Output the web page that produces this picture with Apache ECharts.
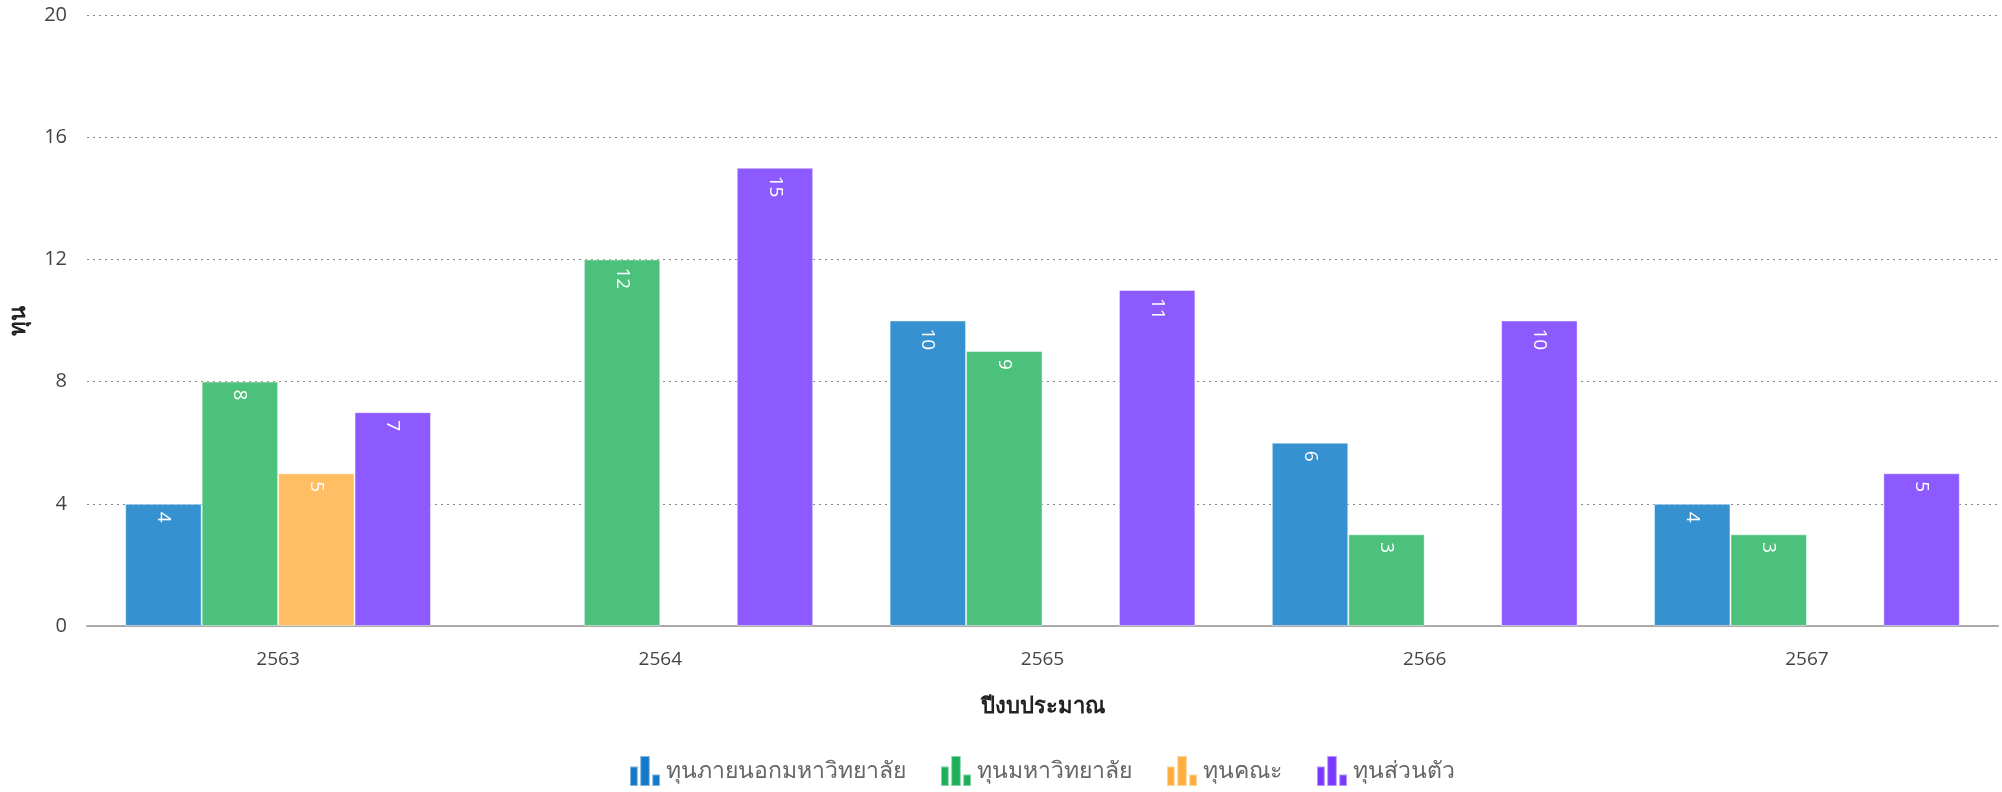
<!DOCTYPE html>
<html><head><meta charset="utf-8">
<script src="https://cdn.jsdelivr.net/npm/echarts@6/dist/echarts.min.js"></script>
<style>html,body{margin:0;padding:0;background:#fff}#c{width:2002px;height:792px}</style>
</head><body><div id="c"></div>
<script>
const categories = ['2563','2564','2565','2566','2567'];
const seriesNames = ['ทุนภายนอกมหาวิทยาลัย','ทุนมหาวิทยาลัย','ทุนคณะ','ทุนส่วนตัว'];
const externalFund = [4, null, 10, 6, 4];
const universityFund = [8, 12, 9, 3, 3];
const facultyFund = [5, null, null, null, null];
const personalFund = [7, 15, 11, 10, 5];
const yTicks = [0, 4, 8, 12, 16, 20];
const xName = 'ปีงบประมาณ';
const yName = 'ทุน';

const barColors = ['#3591cf','#4bc17b','#ffbe64','#8c5aff'];
const iconColors = ['#1479c8','#1dae5a','#ffae40','#7a38ff'];
const values = [externalFund, universityFund, facultyFund, personalFund];
const font = '"Open Sans","Noto Sans",sans-serif';
const icon = 'path://M0,35 L0,100 L26,100 L26,35 Z M34,0 L34,100 L66,100 L66,0 Z M74,62 L74,100 L100,100 L100,62 Z';

const chart = echarts.init(document.getElementById('c'));
chart.setOption({
  animation:false,
  textStyle:{fontFamily:font},
  grid:{left:84,right:4,top:15,bottom:166,containLabel:false},
  legend:{
    bottom:0, left:624, itemWidth:32, itemHeight:30, itemGap:34, icon:icon,
    textStyle:{fontSize:23,color:'#666',fontFamily:font},
    data: seriesNames.map((n,i)=>({name:n,itemStyle:{color:iconColors[i]}}))
  },
  xAxis:{
    type:'category', data:categories,
    name:xName, nameLocation:'middle', nameGap:70,
    nameTextStyle:{fontSize:22,fontWeight:'bold',color:'#222',fontFamily:font},
    axisLine:{lineStyle:{color:'#aaa',width:2}},
    axisTick:{show:false},
    axisLabel:{fontSize:19,color:'#444',margin:24}
  },
  yAxis:{
    type:'value', min:0, max:20, interval:4,
    name:yName, nameLocation:'middle', nameGap:57,
    nameTextStyle:{fontSize:22,fontWeight:'bold',color:'#222',fontFamily:font},
    axisLine:{show:false}, axisTick:{show:false},
    axisLabel:{fontSize:20,color:'#444',margin:20,
      formatter:v=>yTicks.includes(v)?String(v):''},
    splitLine:{lineStyle:{color:'#888',type:[2,4],width:1}}
  },
  series: seriesNames.map((n,i)=>({
    name:n, type:'bar', data:values[i],
    barGap:'0%', barCategoryGap:'20%',
    itemStyle:{color:barColors[i],borderColor:'rgba(255,255,255,0.45)',borderWidth:1},
    label:{show:true, position:'insideTop', rotate:-90, align:'left', verticalAlign:'middle',
      distance:8, color:'#fff', fontSize:19, fontFamily:font}
  }))
});
</script></body></html>
